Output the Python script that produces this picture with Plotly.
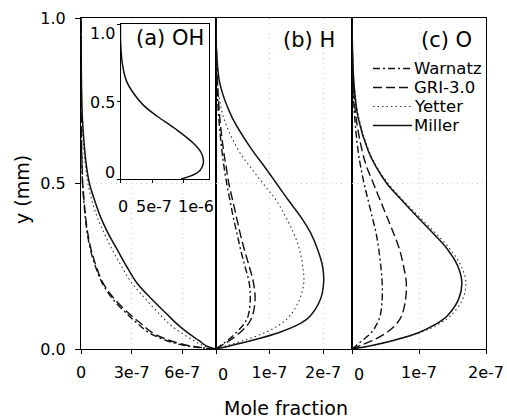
import plotly.graph_objects as go

# Height above the surface (mm) at which each profile is sampled
y_mm = [0, 0.01, 0.025, 0.05, 0.075, 0.1, 0.15, 0.2, 0.25, 0.3, 0.35,
        0.4, 0.45, 0.5, 0.55, 0.6, 0.7, 0.8, 0.9, 1.0]

# Mole fractions in units of 1e-7
# (a) OH
oh_warnatz = [7.95, 6.2, 5.1, 4.0, 3.4, 2.85, 1.9, 1.25, 0.85, 0.56, 0.37,
              0.25, 0.16, 0.09, 0.06, 0.035, 0.012, 0.004, 0.001, 0]
oh_gri = [7.95, 6.4, 5.3, 4.2, 3.6, 3.0, 2.0, 1.3, 0.9, 0.6, 0.4,
          0.27, 0.18, 0.1, 0.07, 0.04, 0.015, 0.005, 0.002, 0]
oh_yetter = [7.95, 7.25, 6.7, 5.9, 5.25, 4.75, 3.85, 3.0, 2.4, 1.85, 1.37,
             0.95, 0.64, 0.41, 0.27, 0.17, 0.06, 0.02, 0.005, 0]
oh_miller = [7.95, 7.4, 7.0, 6.3, 5.7, 5.2, 4.2, 3.3, 2.7, 2.15, 1.6,
             1.15, 0.8, 0.5, 0.33, 0.22, 0.08, 0.03, 0.01, 0]
# (b) H
h_warnatz = [0, 0.08, 0.21, 0.38, 0.52, 0.60, 0.64, 0.62, 0.54, 0.46, 0.39,
             0.32, 0.26, 0.2, 0.15, 0.11, 0.05, 0.02, 0.005, 0]
h_gri = [0, 0.1, 0.25, 0.45, 0.6, 0.68, 0.73, 0.70, 0.62, 0.53, 0.45,
         0.38, 0.31, 0.24, 0.19, 0.14, 0.07, 0.03, 0.01, 0]
h_yetter = [0, 0.2, 0.5, 0.92, 1.2, 1.38, 1.56, 1.64, 1.62, 1.56, 1.45,
            1.30, 1.12, 0.88, 0.64, 0.42, 0.14, 0.03, 0.005, 0]
h_miller = [0, 0.27, 0.65, 1.18, 1.55, 1.76, 1.95, 2.01, 1.99, 1.90, 1.77,
            1.58, 1.35, 1.13, 0.91, 0.68, 0.30, 0.075, 0.01, 0]
# (c) O
o_warnatz = [0, 0.06, 0.15, 0.29, 0.37, 0.42, 0.45, 0.45, 0.43, 0.40, 0.36,
             0.30, 0.24, 0.18, 0.13, 0.09, 0.04, 0.015, 0.004, 0]
o_gri = [0, 0.12, 0.3, 0.52, 0.66, 0.74, 0.80, 0.81, 0.77, 0.71, 0.62,
         0.52, 0.42, 0.32, 0.22, 0.15, 0.06, 0.02, 0.005, 0]
o_yetter = [0, 0.28, 0.6, 1.02, 1.29, 1.47, 1.65, 1.70, 1.63, 1.47, 1.25,
            1.0, 0.76, 0.54, 0.37, 0.25, 0.1, 0.03, 0.008, 0]
o_miller = [0, 0.28, 0.6, 1.0, 1.25, 1.42, 1.59, 1.64, 1.58, 1.43, 1.21,
            0.97, 0.74, 0.52, 0.36, 0.24, 0.09, 0.03, 0.008, 0]

# Inset OH profile
inset_y = [0.0, 0.045, 0.103, 0.168, 0.243, 0.329, 0.405, 0.475, 0.555,
           0.63, 0.737, 0.877, 1.0]
inset_oh = [9.6, 12.3, 13.1, 12.8, 11.2, 8.5, 5.8, 3.65, 2.03, 0.97, 0.32,
            0.02, 0.0]

mechanisms = ["Warnatz", "GRI-3.0", "Yetter", "Miller"]
panels = [
    ("x", "y", [oh_warnatz, oh_gri, oh_yetter, oh_miller]),
    ("x2", "y2", [h_warnatz, h_gri, h_yetter, h_miller]),
    ("x3", "y3", [o_warnatz, o_gri, o_yetter, o_miller]),
]
UNIT = 1e-7

styles = {
    "Warnatz": dict(dash="7px,3px,2px,3px", width=1.4, color="#111"),
    "GRI-3.0": dict(dash="9px,4px", width=1.4, color="#111"),
    "Yetter": dict(dash="1.5px,3px", width=1.1, color="#333"),
    "Miller": dict(dash="solid", width=1.5, color="#111"),
}

FONT = "DejaVu Sans"
W, H = 507, 418


def fx(p):
    return p / W


def fy(p):
    return 1 - p / H


fig = go.Figure()

for xa, ya, series in panels:
    for name, vals in zip(mechanisms, series):
        fig.add_trace(go.Scatter(
            x=[v * UNIT for v in vals], y=y_mm, xaxis=xa, yaxis=ya,
            mode="lines", line=dict(shape="spline", **styles[name]),
            showlegend=False, hoverinfo="skip"))

fig.add_trace(go.Scatter(
    x=[v * UNIT for v in inset_oh], y=inset_y, xaxis="x4", yaxis="y4",
    mode="lines", line=dict(shape="spline", color="#111", width=1.5),
    showlegend=False, hoverinfo="skip"))

# Legend samples, one row per mechanism
for i, name in enumerate(mechanisms):
    fig.add_trace(go.Scatter(
        x=[0, 1], y=[i, i], xaxis="x5", yaxis="y5", mode="lines",
        line=styles[name], showlegend=False, hoverinfo="skip"))

frame = dict(showline=True, mirror=True, linecolor="black", linewidth=1,
             zeroline=False, automargin=False)
grid = dict(showgrid=True, gridcolor="#cfcfcf", griddash="1px,4px",
            gridwidth=1)
tickfont = dict(family=FONT, size=16, color="black")

xa_common = dict(ticks="outside", ticklen=4, tickcolor="black",
                 tickfont=tickfont, ticklabelstandoff=5, **frame, **grid)
ydom = [fy(349), fy(18)]

fig.update_layout(
    template="none",
    width=W, height=H, margin=dict(l=0, r=0, t=0, b=0, autoexpand=False),
    paper_bgcolor="white", plot_bgcolor="white", showlegend=False,
    xaxis=dict(domain=[fx(81), fx(216)], range=[0, 8e-7], anchor="y",
               tickvals=[0, 3e-7, 6e-7], ticktext=["0", "3e-7", "6e-7"],
               **xa_common),
    xaxis2=dict(domain=[fx(216), fx(352)], range=[0, 2.54e-7], anchor="y2",
                tickvals=[0, 1e-7, 2e-7], ticktext=["", "1e-7", "2e-7"],
                **xa_common),
    xaxis3=dict(domain=[fx(352), fx(486)], range=[0, 2e-7], anchor="y3",
                tickvals=[0, 1e-7, 2e-7], ticktext=["", "1e-7", "2e-7"],
                **xa_common),
    yaxis=dict(domain=ydom, range=[0, 1], anchor="x",
               tickvals=[0, 0.5, 1], ticktext=["0.0", "0.5", "1.0"],
               ticks="outside", ticklen=5, tickcolor="black",
               tickfont=tickfont, ticklabelstandoff=6, **frame, **grid),
    yaxis2=dict(domain=ydom, range=[0, 1], anchor="x2", tickvals=[0, 0.5, 1],
                showticklabels=False, ticks="", **frame, **grid),
    yaxis3=dict(domain=ydom, range=[0, 1], anchor="x3", tickvals=[0, 0.5, 1],
                showticklabels=False, ticks="", **frame, **grid),
    xaxis4=dict(domain=[fx(120.5), fx(209)], range=[0, 1.4e-6], anchor="y4",
                tickvals=[0, 5e-7, 1e-6], ticks="outside", ticklen=3,
                tickcolor="black", showticklabels=False, showgrid=False,
                **frame),
    yaxis4=dict(domain=[fy(179), fy(24)], range=[0, 1], anchor="x4",
                tickvals=[0, 0.5, 1], ticks="outside", ticklen=3,
                tickcolor="black", showticklabels=False, showgrid=False,
                **frame),
    xaxis5=dict(domain=[fx(373), fx(412)], range=[0, 1], anchor="y5",
                visible=False, automargin=False),
    yaxis5=dict(domain=[fy(135), fy(59)], range=[3.5, -0.5], anchor="x5",
                visible=False, automargin=False),
)

ann = []
lab_y = fy(374)
for xa in ["x2", "x3"]:
    ann.append(dict(text="0", xref=xa, x=0, xshift=7, yref="paper", y=lab_y,
                    yanchor="middle", xanchor="center", showarrow=False,
                    font=tickfont))

# Inset tick labels
for v, t, sh in [(0, "0", 2.5), (5e-7, "5e-7", 2), (1e-6, "1e-6", 12)]:
    ann.append(dict(text=t, xref="x4", x=v, xshift=sh, yref="paper",
                    y=fy(206), yanchor="middle", xanchor="center",
                    showarrow=False, font=tickfont))
for v, t, sh in [(1, "1.0", -10), (0.5, "0.5", -1.5), (0, "0", 7)]:
    ann.append(dict(text=t, xref="paper", x=fx(117), xanchor="right",
                    yref="y4", y=v, yshift=sh, yanchor="middle",
                    showarrow=False, font=tickfont))

# Legend labels
for i, name in enumerate(mechanisms):
    ann.append(dict(text=name, xref="x5", x=1, xanchor="left", yref="y5",
                    y=i, yanchor="middle", showarrow=False,
                    font=dict(family=FONT, size=16.5, color="black")))

# Panel labels
label_font = dict(family=FONT, size=21, color="black")
for t, xr, yc in [("(a) OH", 206, 38), ("(b) H", 337, 40), ("(c) O", 474, 40)]:
    ann.append(dict(text=t, xref="paper", x=fx(xr), xanchor="right",
                    yref="paper", y=fy(yc), yanchor="middle",
                    showarrow=False, font=label_font))

# Axis titles
title_font = dict(family=FONT, size=19, color="black")
ann.append(dict(text="Mole fraction", xref="paper", x=fx(286), yref="paper",
                y=fy(408), xanchor="center", yanchor="middle",
                showarrow=False, font=title_font))
ann.append(dict(text="y (mm)", xref="paper", x=fx(22), yref="paper",
                y=fy(190), xanchor="center", yanchor="middle",
                textangle=-90, showarrow=False, font=title_font))

fig.update_layout(annotations=ann)

fig.write_html("out.html")
